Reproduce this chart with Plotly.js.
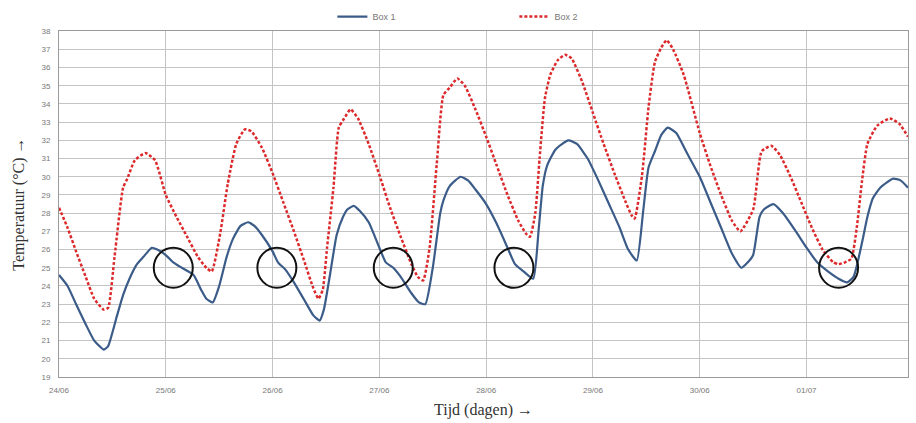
<!DOCTYPE html>
<html>
<head>
<meta charset="utf-8">
<script src="https://cdn.plot.ly/plotly-3.0.1.min.js"></script>
<style>html,body{margin:0;padding:0;background:#fff;}#chart{width:916px;height:423px;}</style>
</head>
<body>
<div id="chart"></div>
<script>
// Time in days since 24/06 00:00
const box1Days = [0.00,0.08,0.16,0.25,0.33,0.42,0.46,0.54,0.60,0.66,0.73,0.79,0.87,0.92,1.00,1.07,1.15,1.26,1.33,1.38,1.44,1.50,1.57,1.63,1.70,1.77,1.83,1.90,2.00,2.05,2.12,2.20,2.30,2.38,2.44,2.48,2.54,2.60,2.66,2.70,2.76,2.82,2.90,3.00,3.06,3.13,3.20,3.30,3.37,3.43,3.50,3.57,3.60,3.66,3.76,3.83,3.90,4.00,4.10,4.20,4.27,4.35,4.44,4.49,4.53,4.57,4.65,4.77,4.85,4.95,5.05,5.15,5.25,5.33,5.41,5.47,5.52,5.58,5.64,5.70,5.78,5.88,6.00,6.10,6.20,6.30,6.39,6.45,6.50,6.56,6.60,6.69,6.78,6.90,7.00,7.10,7.20,7.30,7.38,7.44,7.52,7.57,7.62,7.69,7.81,7.88,7.95];
const box1Temp = [24.6,24.0,23.0,21.9,21.0,20.5,20.7,22.3,23.5,24.4,25.2,25.6,26.1,26.0,25.7,25.3,25.0,24.6,23.8,23.3,23.1,24.0,25.6,26.6,27.3,27.5,27.3,26.8,25.9,25.3,24.9,24.2,23.2,22.4,22.1,22.7,24.7,26.8,27.8,28.2,28.4,28.1,27.5,26.1,25.3,25.0,24.5,23.6,23.1,23.0,25.0,28.0,28.7,29.5,30.0,29.8,29.3,28.5,27.4,26.1,25.2,24.8,24.4,27.0,29.5,30.6,31.5,32.0,31.8,31.0,29.8,28.5,27.2,26.0,25.4,28.1,30.5,31.4,32.3,32.7,32.4,31.3,30.0,28.6,27.2,25.8,25.0,25.3,25.7,27.8,28.2,28.5,28.0,27.0,26.1,25.3,24.8,24.4,24.2,24.5,26.4,27.8,28.8,29.4,29.9,29.8,29.4];

const box2Days = [0.00,0.08,0.16,0.25,0.33,0.42,0.46,0.52,0.60,0.64,0.71,0.81,0.90,1.00,1.10,1.20,1.30,1.38,1.43,1.51,1.58,1.66,1.74,1.80,1.90,2.00,2.10,2.20,2.30,2.38,2.43,2.47,2.51,2.57,2.62,2.67,2.73,2.80,2.90,3.00,3.10,3.20,3.30,3.36,3.41,3.47,3.54,3.60,3.66,3.73,3.80,3.90,4.00,4.10,4.20,4.30,4.37,4.41,4.46,4.50,4.55,4.60,4.67,4.74,4.80,4.90,5.00,5.10,5.20,5.30,5.36,5.39,5.46,5.52,5.58,5.64,5.69,5.75,5.85,6.00,6.10,6.20,6.30,6.38,6.50,6.58,6.67,6.75,6.85,6.95,7.05,7.15,7.25,7.30,7.36,7.42,7.47,7.52,7.57,7.66,7.78,7.87,7.95];
const box2Temp = [28.3,27.2,25.9,24.5,23.3,22.7,22.8,25.6,29.4,29.9,30.9,31.3,30.9,29.0,27.8,26.7,25.6,25.0,24.8,26.9,29.6,31.8,32.6,32.5,31.6,30.2,28.6,27.0,25.3,23.9,23.3,23.8,26.1,29.4,32.7,33.2,33.7,33.2,31.8,30.1,28.3,26.7,25.2,24.5,24.3,26.1,30.9,34.5,34.9,35.4,35.0,33.7,32.2,30.6,29.0,27.6,26.9,26.7,28.0,31.0,34.3,35.6,36.4,36.7,36.5,35.2,33.5,31.8,30.2,28.7,27.9,27.7,30.1,33.8,36.3,37.1,37.5,37.0,35.6,32.4,30.6,29.0,27.6,27.0,28.2,31.4,31.7,31.2,30.0,28.6,27.2,26.0,25.3,25.2,25.3,25.5,27.2,29.8,31.8,32.8,33.2,32.9,32.2];

const dayTicks = [0,1,2,3,4,5,6,7];
const dayLabels = ["24/06","25/06","26/06","27/06","28/06","29/06","30/06","01/07"];

// Marked circles (day, temperature)
const circleDays = [1.07,2.04,3.13,4.26,7.30];
const circleTemps = [25,25,25,25,25];

const shapes = circleDays.map((d,i)=>({
  type:'circle', xref:'x', yref:'y',
  xsizemode:'pixel', ysizemode:'pixel',
  xanchor:d, yanchor:circleTemps[i],
  x0:-19.5, x1:19.5, y0:-20, y1:20,
  line:{color:'#111111', width:2}
}));

const traces = [
  {x:box1Days, y:box1Temp, name:'Box 1', mode:'lines',
   line:{color:'#3b5b88', width:2.2, shape:'spline', smoothing:0.5}},
  {x:box2Days, y:box2Temp, name:'Box 2', mode:'lines',
   line:{color:'#dc2a2c', width:2.5, dash:'3px,2px', shape:'spline', smoothing:0.5}}
];

const layout = {
  width:916, height:423,
  margin:{l:59, r:8, t:31, b:46},
  paper_bgcolor:'#ffffff', plot_bgcolor:'#ffffff',
  showlegend:true,
  legend:{orientation:'h', x:0.322, xanchor:'left', yref:'container', y:0.995, yanchor:'top',
          font:{family:'Liberation Sans, Arial, sans-serif', size:9, color:'#777'},
          entrywidth:137, itemwidth:30, bgcolor:'rgba(0,0,0,0)'},
  xaxis:{range:[0,7.95], tickmode:'array', tickvals:dayTicks, ticktext:dayLabels,
         showgrid:true, gridcolor:'#c4c4c4', gridwidth:1,
         showline:true, linecolor:'#9a9a9a', mirror:true, zeroline:false,
         ticks:'', ticklabelstandoff:5,
         tickfont:{family:'Liberation Sans, Arial, sans-serif', size:8, color:'#777'},
         title:{text:'Tijd (dagen) →', standoff:10, font:{family:'Liberation Serif, Times New Roman, serif', size:16, color:'#333'}}},
  yaxis:{range:[19,38], dtick:1, tick0:19,
         showgrid:true, gridcolor:'#c4c4c4', gridwidth:1,
         showline:true, linecolor:'#9a9a9a', mirror:true, zeroline:false,
         ticks:'', ticklabelstandoff:6,
         tickfont:{family:'Liberation Sans, Arial, sans-serif', size:8, color:'#777'},
         title:{text:'Temperatuur (°C) →', standoff:12, font:{family:'Liberation Serif, Times New Roman, serif', size:16, color:'#333'}}},
  shapes:shapes
};

Plotly.newPlot('chart', traces, layout, {displayModeBar:false, staticPlot:true});
</script>
</body>
</html>
